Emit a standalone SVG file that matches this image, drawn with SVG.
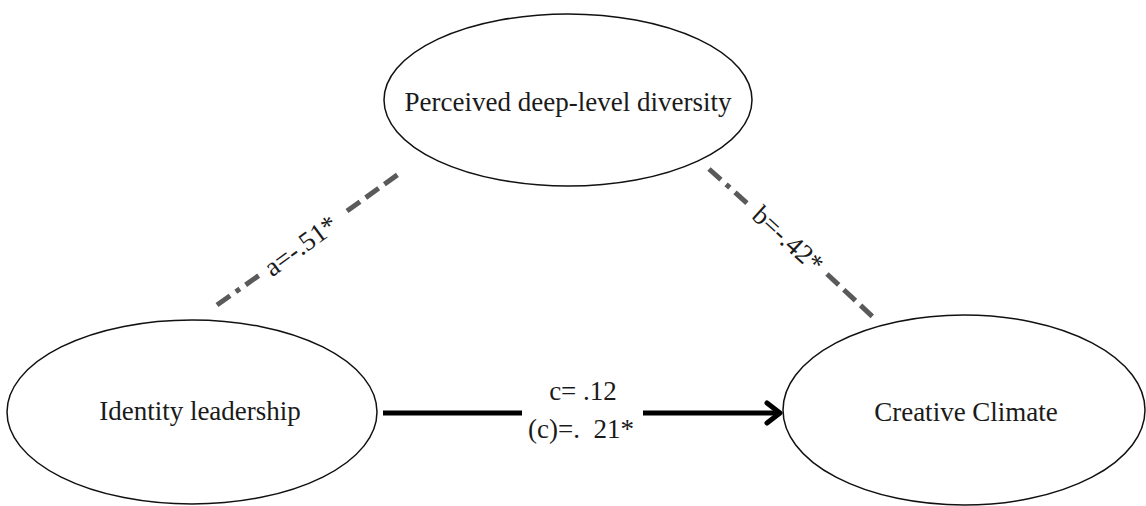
<svg xmlns="http://www.w3.org/2000/svg" width="1146" height="506" viewBox="0 0 1146 506">
<defs>
<style>
.node{fill:#fff;stroke:#111;stroke-width:1.5}
.lbl{font-family:"Liberation Serif","Times New Roman",serif;font-size:27px;fill:#1a1a1a;text-anchor:middle}
.dash{stroke:#5a5a5a;stroke-width:5;fill:none}
.solid{stroke:#000;stroke-width:5;fill:none}
</style>
<marker id="arr" viewBox="0 0 20 26" refX="17" refY="13" markerWidth="20" markerHeight="26" markerUnits="userSpaceOnUse" orient="auto">
<path d="M4,3 L17,13 L4,23" fill="none" stroke="#000" stroke-width="5" stroke-linecap="round" stroke-linejoin="round"/>
</marker>
</defs>
<rect width="1146" height="506" fill="#fff"/>
<g id="node-diversity">
<ellipse class="node" cx="568" cy="100" rx="184" ry="86"/>
<text class="lbl" x="568" y="111">Perceived deep-level diversity</text>
</g>
<g id="node-identity">
<ellipse class="node" cx="192" cy="412" rx="185" ry="92"/>
<text class="lbl" x="200" y="420">Identity leadership</text>
</g>
<g id="node-creative">
<ellipse class="node" cx="964" cy="410" rx="181" ry="95"/>
<text class="lbl" x="966" y="421">Creative Climate</text>
</g>
<g id="connectors">
<path class="dash" d="M217,305 L261,274" stroke-dasharray="16 7 5 7"/>
<path class="dash" d="M347,211 L400,173" stroke-dasharray="16 7"/>
<text class="lbl" transform="translate(306,253) rotate(-36)" x="0" y="0">a=-.51*</text>
<path class="dash" d="M709,169 L749,205" stroke-dasharray="16 7 5 7"/>
<path class="dash" d="M827,274 L874,318" stroke-dasharray="16 7"/>
<text class="lbl" transform="translate(782,246) rotate(42)" x="0" y="0">b=-.42*</text>
<path class="solid" d="M383,413 L522,413"/>
<path class="solid" d="M643,413 L780,413" marker-end="url(#arr)"/>
<text class="lbl" x="583" y="400">c= .12</text>
<text class="lbl" x="581" y="438" xml:space="preserve">(c)=.  21*</text>
</g>
</svg>
